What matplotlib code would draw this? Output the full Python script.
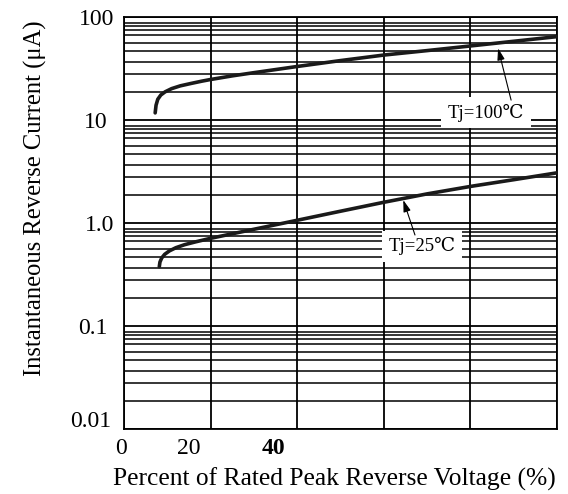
import matplotlib
matplotlib.use("Agg")
import matplotlib.pyplot as plt
import matplotlib.transforms as mtransforms
from matplotlib.ticker import FixedLocator, NullFormatter

plt.rcParams['font.family'] = ['Liberation Serif', 'DejaVu Serif', 'DejaVu Sans', 'Noto Sans CJK SC']

# ---- data ----
pct_100 = [7.2, 7.4, 7.8, 8.5, 9.5, 11, 13, 15.5, 18, 20, 25, 30, 40, 50, 60, 70, 80, 90, 100]
cur_100 = [11.8, 14.0, 16.0, 17.6, 18.9, 20.3, 21.6, 22.8, 24.0, 24.9, 27.0, 29.0, 33.3, 38.0,
           43.0, 47.5, 52.7, 58.5, 64.9]

pct_25 = [8.15, 8.3, 8.7, 9.4, 10.5, 12, 14, 16.5, 20, 30, 40, 50, 60, 70, 80, 90, 100]
cur_25 = [0.379, 0.42, 0.46, 0.50, 0.54, 0.58, 0.62, 0.66, 0.715, 0.875, 1.07, 1.31, 1.60,
          1.93, 2.28, 2.65, 3.09]

x_ticks = [0, 20, 40, 60, 80, 100]
x_ticklabels = ['0', '20', '40', '', '', '']
y_ticks = [0.01, 0.1, 1.0, 10, 100]
y_ticklabels = ['0.01', '0.1', '1.0', '10', '100']
label_100 = 'Tj=100℃'
label_25 = 'Tj=25℃'
xlabel = 'Percent of Rated Peak Reverse Voltage (%)'
ylabel = 'Instantaneous Reverse Current (μA)'

fig = plt.figure(figsize=(5.68, 4.94), dpi=100)
ax = fig.add_axes([124/568, 1-429.3/494, (557-124)/568, (429.3-17.3)/494])

ax.set_yscale('log')
ax.set_xlim(0, 100)
ax.set_ylim(0.01, 100)

# grid
ax.xaxis.set_major_locator(FixedLocator(x_ticks))
ax.set_xticklabels(x_ticklabels)
ax.yaxis.set_major_locator(FixedLocator(y_ticks))
ax.set_yticklabels(y_ticklabels)
minor = []
for d in [0.01, 0.1, 1, 10]:
    for s in [1.9, 2.8, 3.7, 4.7, 5.6, 6.7, 7.6, 8.2, 8.8]:
        minor.append(d * s)
ax.yaxis.set_minor_locator(FixedLocator(minor))
ax.yaxis.set_minor_formatter(NullFormatter())
ax.grid(True, which='major', axis='both', color='black', lw=1.3)
ax.grid(True, which='minor', axis='y', color='black', lw=1.1)
ax.set_axisbelow(True)
ax.tick_params(which='both', length=0)
ax.tick_params(axis='y', which='major', pad=7, labelsize=17)
ax.tick_params(axis='x', which='major', pad=6, labelsize=17)
for sp in ax.spines.values():
    sp.set_linewidth(1.3)

# curves
ax.plot(pct_100, cur_100, color='#1a1a1a', lw=2.6, solid_capstyle='round', solid_joinstyle='round', zorder=3)
ax.plot(pct_25, cur_25, color='#1a1a1a', lw=2.6, solid_capstyle='round', solid_joinstyle='round', zorder=3)

# annotations
box = dict(boxstyle='square,pad=0.35', fc='white', ec='none')
ax.text(83.6, 11.8, label_100, ha='center', va='center', fontsize=13.5, bbox=box, zorder=4)
ax.text(68.9, 0.60, label_25, ha='center', va='center', fontsize=13.5, bbox=box, zorder=4)
arrow = dict(arrowstyle='-|>,head_length=0.7,head_width=0.22', color='black', lw=0.8,
             shrinkA=0, shrinkB=0)
ax.annotate('', xy=(86.4, 50.0), xytext=(89.4, 15.7), arrowprops=arrow, zorder=5)
ax.annotate('', xy=(64.5, 1.68), xytext=(67.2, 0.77), arrowprops=arrow, zorder=5)

# axis labels
ax.set_xlabel(xlabel, fontsize=18.4, va='center')
ax.xaxis.set_label_coords(0.487, -0.1206)
ax.set_ylabel(ylabel, fontsize=17.7, va='center')
ax.yaxis.set_label_coords(-0.2055, 0.561)

# tick label fine offsets (pixels) to mimic the reference placement
def shift(lbl, dx, dy):
    lbl.set_transform(lbl.get_transform() + mtransforms.ScaledTranslation(dx/100, dy/100, fig.dpi_scale_trans))

xl = ax.get_xticklabels()
shift(xl[0], -3, 0)
shift(xl[1], -22, 0)
shift(xl[2], -24, 0)
xl[2].set_fontweight('bold')
yl = ax.get_yticklabels()
shift(yl[0], -3, 10)
shift(yl[1], -7, 0)
shift(yl[3], -7, 0)

fig.savefig('out.png', dpi=100)
